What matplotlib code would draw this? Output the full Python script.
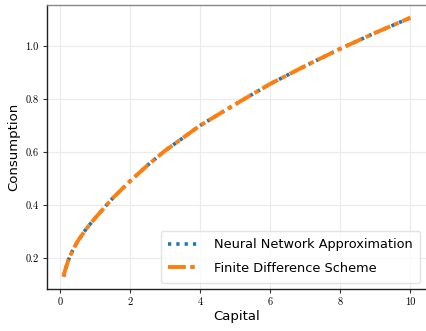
import matplotlib
matplotlib.use('Agg')
import matplotlib.pyplot as plt
import numpy as np

# capital grid and consumption policy
capital = [0.1, 0.15, 0.25, 0.35, 0.5, 0.75, 1.0, 1.5, 2.0, 2.5, 3.0, 4.0, 5.0, 6.0, 7.0, 8.0, 9.0, 10.0]
consumption_nn = [0.13, 0.155, 0.195, 0.225, 0.262, 0.31, 0.35, 0.425, 0.49, 0.55, 0.605, 0.70, 0.78, 0.857, 0.925, 0.99, 1.05, 1.107]
consumption_fd = [0.13, 0.155, 0.195, 0.225, 0.262, 0.31, 0.35, 0.425, 0.49, 0.55, 0.605, 0.70, 0.78, 0.857, 0.925, 0.99, 1.05, 1.107]

xticks = [0, 2, 4, 6, 8, 10]
yticks = [0.2, 0.4, 0.6, 0.8, 1.0]

fig = plt.figure(figsize=(4.27, 3.31), dpi=100)
ax = fig.add_axes([0.11, 0.127, 0.889, 0.858])

ax.plot(capital, consumption_nn, color='#1f77b4', linestyle=(0, (0.9, 1.4)), linewidth=2.6,
        label='Neural Network Approximation')
ax.plot(capital, consumption_fd, color='#ff7f0e', linestyle=(0, (4.6, 1.1, 1.2, 1.1)), linewidth=2.8,
        label='Finite Difference Scheme')

ax.set_xlim(-0.37, 10.46)
ax.set_ylim(0.083, 1.155)
ax.set_xticks(xticks)
ax.set_yticks(yticks)
ax.set_xticklabels([str(t) for t in xticks])
ax.set_yticklabels([f'{t:.1f}' for t in yticks])
for lbl in ax.get_xticklabels() + ax.get_yticklabels():
    lbl.set_fontfamily('cmr10')
    lbl.set_fontsize(7.5)
ax.tick_params(length=3, width=0.8, color='#333333', pad=3)

ax.grid(True, color='#ebebeb', linewidth=0.8)
ax.set_axisbelow(True)
for side in ['left', 'bottom']:
    ax.spines[side].set_color('#222222')
    ax.spines[side].set_linewidth(1.0)
ax.spines['top'].set_color('#888888')
ax.spines['top'].set_linewidth(1.0)
ax.spines['right'].set_visible(False)

ax.set_xlabel('Capital', fontsize=9.5, labelpad=2)
ax.set_ylabel('Consumption', fontsize=9.5, labelpad=4)
ax.legend(loc='lower right', fontsize=9.3, handlelength=2.3, handletextpad=1.2,
          labelspacing=0.8, borderpad=0.6, framealpha=0.8, edgecolor='#dddddd')

fig.savefig('out.png', dpi=100)
